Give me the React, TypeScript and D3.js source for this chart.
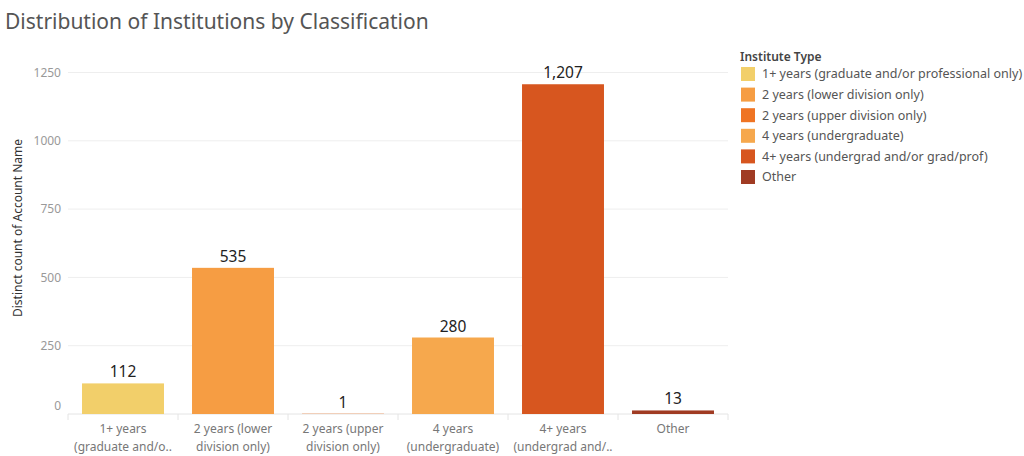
import * as d3 from 'd3';

const categories = [
  '1+ years (graduate and/or professional only)',
  '2 years (lower division only)',
  '2 years (upper division only)',
  '4 years (undergraduate)',
  '4+ years (undergrad and/or grad/prof)',
  'Other',
];
const counts = [112, 535, 1, 280, 1207, 13];
const axisLabels = [
  ['1+ years', '(graduate and/o..'],
  ['2 years (lower', 'division only)'],
  ['2 years (upper', 'division only)'],
  ['4 years', '(undergraduate)'],
  ['4+ years', '(undergrad and/..'],
  ['Other'],
];
const colors = ['#f2cf6a', '#f69d43', '#ef7423', '#f6a84d', '#d7561f', '#a03b23'];
const yTicks = [0, 250, 500, 750, 1000, 1250];

const width = 1024;
const height = 456;
const margin = { top: 72.5, left: 68, right: 296, bottom: 42 };
const font = '"Noto Sans", "Open Sans", sans-serif';

export default function App() {
  const innerH = height - margin.top - margin.bottom;
  const x = d3
    .scaleBand()
    .domain(categories)
    .range([margin.left, width - margin.right])
    .paddingInner(0.255)
    .paddingOuter(0.1275);
  const y = d3.scaleLinear().domain([0, 1250]).range([margin.top + innerH, margin.top]);
  const band = x.step();
  const fmt = d3.format(',');

  return (
    <svg
      width={width}
      height={height}
      style={{ position: 'absolute', left: 0, top: 0, background: '#fff' }}
      fontFamily={font}
    >
      <text x={5} y={29} fontSize={21} fill="#555">
        Distribution of Institutions by Classification
      </text>

      {/* gridlines */}
      {yTicks.slice(1).map((t) => (
        <line
          key={t}
          x1={margin.left}
          x2={width - margin.right}
          y1={y(t)}
          y2={y(t)}
          stroke="#eeeeee"
          strokeWidth={1}
        />
      ))}
      <line
        x1={margin.left}
        x2={width - margin.right}
        y1={y(0)}
        y2={y(0)}
        stroke="#e4e4e4"
      />
      {d3.range(categories.length + 1).map((i) => (
        <line
          key={i}
          x1={margin.left + i * band}
          x2={margin.left + i * band}
          y1={y(0)}
          y2={y(0) + 6}
          stroke="#e4e4e4"
        />
      ))}

      {/* y ticks */}
      {yTicks.map((t) => (
        <text
          key={t}
          x={61}
          y={t === 0 ? y(0) - 8 : y(t)}
          dy="0.35em"
          textAnchor="end"
          fontSize={12}
          fill="#999"
        >
          {t}
        </text>
      ))}
      <text
        transform={`translate(22,228) rotate(-90)`}
        textAnchor="middle"
        fontSize={12}
        fill="#333"
      >
        Distinct count of Account Name
      </text>

      {/* bars */}
      {categories.map((c, i) => (
        <g key={c}>
          <rect
            x={x(c)}
            y={y(counts[i])}
            width={x.bandwidth()}
            height={y(0) - y(counts[i])}
            fill={colors[i]}
          />
          <text
            x={x(c)! + x.bandwidth() / 2}
            y={y(counts[i]) - 6}
            textAnchor="middle"
            fontSize={15.5}
            fill="#222"
          >
            {fmt(counts[i])}
          </text>
          {axisLabels[i].map((l, j) => (
            <text
              key={j}
              x={x(c)! + x.bandwidth() / 2}
              y={433 + j * 18}
              textAnchor="middle"
              fontSize={12}
              fill="#777"
            >
              {l}
            </text>
          ))}
        </g>
      ))}

      {/* legend */}
      <text x={740} y={61} fontSize={12} fontWeight={600} fill="#444">
        Institute Type
      </text>
      {categories.map((c, i) => (
        <g key={c} transform={`translate(741,${67 + i * 20.6})`}>
          <rect width={14} height={14} fill={colors[i]} />
          <text x={21} y={7} dy="0.35em" fontSize={12.5} fill="#555">
            {c}
          </text>
        </g>
      ))}
    </svg>
  );
}
